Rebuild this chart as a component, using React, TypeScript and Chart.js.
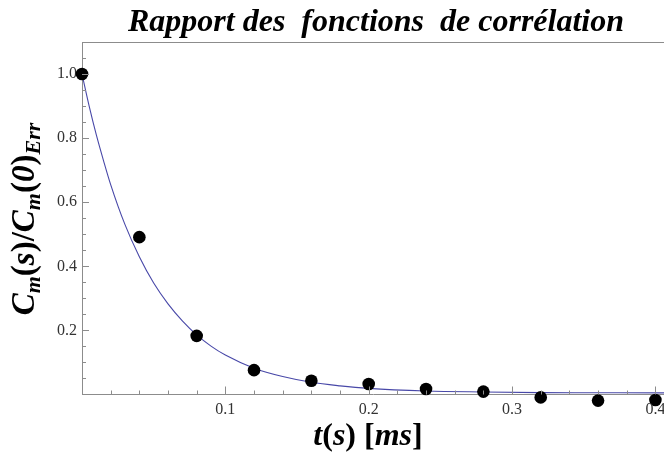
import React, { useEffect, useRef } from "react";
import { Chart, registerables } from "chart.js";

Chart.register(...registerables);

const titleText = "Rapport des  fonctions  de corrélation";

// measured points: t [ms] and ratio
const pointT = [0, 0.04, 0.08, 0.12, 0.16, 0.2, 0.24, 0.28, 0.32, 0.36, 0.4];
const pointRatio = [1.0, 0.491, 0.183, 0.076, 0.043, 0.033, 0.017, 0.009, -0.009, -0.019, -0.017];

// fitted curve
const curveT = [0, 0.005, 0.01, 0.015, 0.02, 0.03, 0.04, 0.05, 0.06, 0.07, 0.08, 0.09, 0.1, 0.12, 0.14, 0.16, 0.18, 0.2, 0.24, 0.28, 0.32, 0.36, 0.41];
const curveRatio = [1.0, 0.9, 0.81, 0.73, 0.655, 0.53, 0.43, 0.348, 0.283, 0.23, 0.186, 0.151, 0.123, 0.082, 0.056, 0.038, 0.027, 0.019, 0.011, 0.008, 0.006, 0.0055, 0.005];

const xLabelTicks = [0.1, 0.2, 0.3, 0.4];
const yLabelTicks = [0.2, 0.4, 0.6, 0.8, 1.0];

const AXIS_GRAY = "#8c8c8c";
const SERIF = "'Liberation Serif', 'DejaVu Serif', serif";

type Seg = { t: string; style: string; size: number; dy?: number };

function drawSegs(ctx: CanvasRenderingContext2D, segs: Seg[], x0: number, y0: number) {
  let x = x0;
  for (const s of segs) {
    ctx.font = `${s.style} ${s.size}px ${SERIF}`;
    ctx.fillText(s.t, x, y0 + (s.dy || 0));
    x += ctx.measureText(s.t).width;
  }
}
function segsWidth(ctx: CanvasRenderingContext2D, segs: Seg[]) {
  let w = 0;
  for (const s of segs) {
    ctx.font = `${s.style} ${s.size}px ${SERIF}`;
    w += ctx.measureText(s.t).width;
  }
  return w;
}

const decorPlugin = {
  id: "decor",
  afterDraw(chart: any) {
    const ctx: CanvasRenderingContext2D = chart.ctx;
    const xs = chart.scales.x;
    const ys = chart.scales.y;
    const area = chart.chartArea;
    ctx.save();
    // top frame line
    ctx.strokeStyle = AXIS_GRAY;
    ctx.lineWidth = 1;
    ctx.beginPath();
    ctx.moveTo(area.left, Math.round(area.top) + 0.5);
    ctx.lineTo(area.right, Math.round(area.top) + 0.5);
    ctx.stroke();
    // inside ticks y
    for (let i = 1; i <= 22; i++) {
      const v = i * 0.05;
      const major = Math.abs(v / 0.2 - Math.round(v / 0.2)) < 1e-6;
      const y = Math.round(ys.getPixelForValue(v)) + 0.5;
      ctx.beginPath();
      ctx.moveTo(area.left, y);
      ctx.lineTo(area.left + (major ? 7 : 4), y);
      ctx.stroke();
    }
    // inside ticks x
    for (let i = 1; i <= 20; i++) {
      const v = i * 0.02;
      const major = Math.abs(v / 0.1 - Math.round(v / 0.1)) < 1e-6;
      const x = Math.round(xs.getPixelForValue(v)) + 0.5;
      ctx.beginPath();
      ctx.moveTo(x, area.bottom);
      ctx.lineTo(x, area.bottom - (major ? 8 : 4));
      ctx.stroke();
    }
    // x tick labels
    ctx.fillStyle = "#333";
    ctx.font = `16px ${SERIF}`;
    ctx.textAlign = "center";
    ctx.textBaseline = "top";
    for (const v of xLabelTicks) {
      ctx.fillText(v.toFixed(1), xs.getPixelForValue(v), area.bottom + 7);
    }
    ctx.fillStyle = "#000";
    ctx.textBaseline = "alphabetic";
    ctx.textAlign = "left";
    // title
    ctx.font = `bold italic 32px ${SERIF}`;
    const tw = ctx.measureText(titleText).width;
    ctx.fillText(titleText, 376 - tw / 2, 31);
    // x axis title
    const xSegs: Seg[] = [
      { t: "t", style: "bold italic", size: 32 },
      { t: "(", style: "bold", size: 32 },
      { t: "s", style: "bold italic", size: 32 },
      { t: ")", style: "bold", size: 32 },
      { t: " [", style: "bold", size: 32 },
      { t: "ms", style: "bold italic", size: 32 },
      { t: "]", style: "bold", size: 32 },
    ];
    const xw = segsWidth(ctx, xSegs);
    drawSegs(ctx, xSegs, 368 - xw / 2, 445);
    // y axis title
    const ySegs: Seg[] = [
      { t: "C", style: "bold italic", size: 33 },
      { t: "m", style: "bold italic", size: 22, dy: 6 },
      { t: "(", style: "bold", size: 33 },
      { t: "s", style: "bold italic", size: 33 },
      { t: ")/", style: "bold", size: 33 },
      { t: "C", style: "bold italic", size: 33 },
      { t: "m", style: "bold italic", size: 22, dy: 6 },
      { t: "(", style: "bold", size: 33 },
      { t: "0", style: "bold italic", size: 33 },
      { t: ")", style: "bold", size: 33 },
      { t: "Err", style: "bold italic", size: 22, dy: 6 },
    ];
    const yw = segsWidth(ctx, ySegs);
    ctx.translate(34, 219 + yw / 2);
    ctx.rotate(-Math.PI / 2);
    drawSegs(ctx, ySegs, 0, 0);
    ctx.restore();
  },
};

export default function App() {
  const ref = useRef<HTMLCanvasElement | null>(null);
  useEffect(() => {
    document.body.style.margin = "0";
    const canvas = ref.current!;
    const near = (v: number, arr: number[]) => arr.some((a) => Math.abs(a - v) < 1e-6);
    const chart = new Chart(canvas, {
      type: "scatter",
      data: {
        datasets: [
          {
            label: "fit",
            data: curveT.map((t, i) => ({ x: t, y: curveRatio[i] })),
            showLine: true,
            borderColor: "rgb(72,72,168)",
            borderWidth: 1.1,
            pointRadius: 0,
            cubicInterpolationMode: "monotone",
            order: 2,
          } as any,
          {
            label: "data",
            data: pointT.map((t, i) => ({ x: t, y: pointRatio[i] })),
            showLine: false,
            pointRadius: 6.3,
            pointBackgroundColor: "#000",
            pointBorderColor: "#000",
            pointBorderWidth: 0,
            clip: false,
            order: 1,
          } as any,
        ],
      },
      options: {
        animation: false,
        responsive: false,
        devicePixelRatio: 1,
        layout: { autoPadding: false, padding: { top: 42, right: 0, left: 0, bottom: 0 } },
        plugins: { legend: { display: false }, tooltip: { enabled: false }, title: { display: false } },
        scales: {
          x: {
            type: "linear",
            min: 0,
            max: 0.406,
            grid: { display: true, drawOnChartArea: false, drawTicks: false },
            border: { display: true, color: AXIS_GRAY, width: 1 },
            afterFit: (s: any) => {
              s.height = 58.5;
              s.paddingRight = 0;
              s.paddingLeft = 0;
            },
            ticks: { display: false },
          },
          y: {
            type: "linear",
            min: 0,
            max: 1.1,
            grid: { display: true, drawOnChartArea: false, drawTicks: false },
            border: { display: true, color: AXIS_GRAY, width: 1 },
            afterFit: (s: any) => {
              s.width = 82;
              s.paddingTop = 0;
              s.paddingBottom = 0;
            },
            ticks: {
              stepSize: 0.05,
              autoSkip: false,
              padding: 5,
              color: "#333",
              font: { family: SERIF, size: 16 },
              callback: (v: any) => (near(Number(v), yLabelTicks) ? Number(v).toFixed(1) : ""),
            },
          },
        },
      },
      plugins: [decorPlugin],
    });
    return () => chart.destroy();
  }, []);
  return (
    <div style={{ width: 664, height: 453 }}>
      <canvas ref={ref} width={664} height={453} />
    </div>
  );
}
